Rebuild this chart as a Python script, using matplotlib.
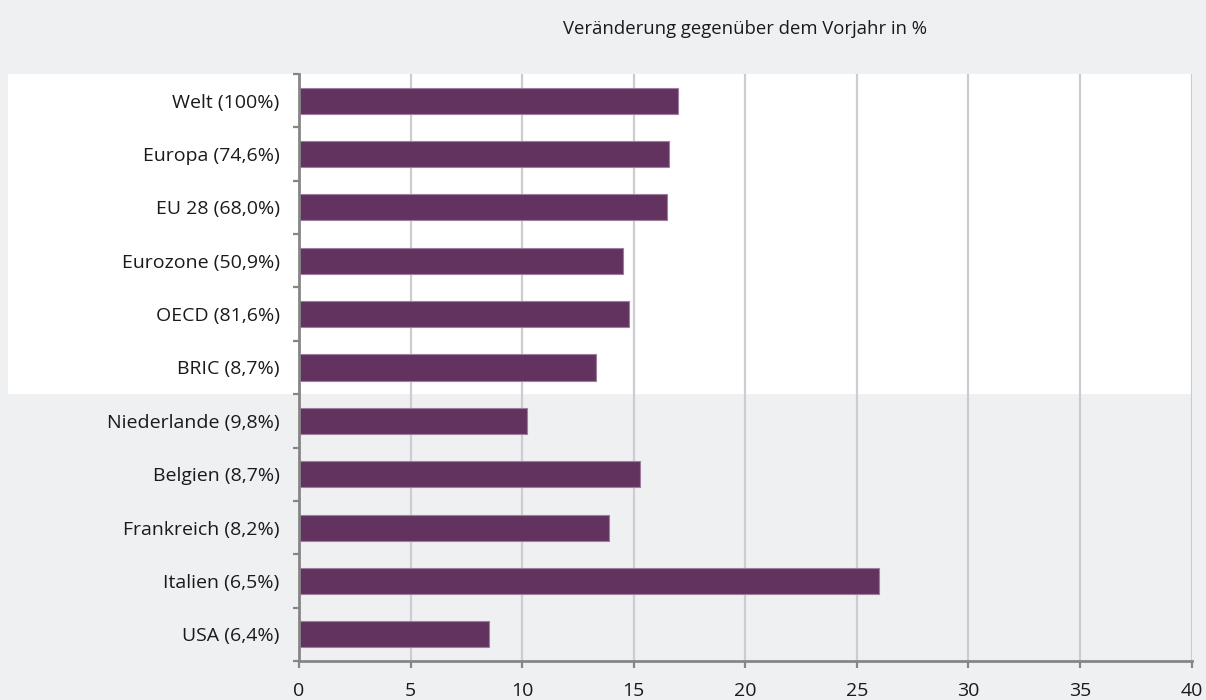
import matplotlib
matplotlib.use("Agg")
import matplotlib.pyplot as plt
from matplotlib.patches import Rectangle
from matplotlib.transforms import blended_transform_factory
import numpy as np

plt.rcParams['font.family'] = ['Open Sans', 'DejaVu Sans']

categories = [
    "Welt (100%)", "Europa (74,6%)", "EU 28 (68,0%)", "Eurozone (50,9%)",
    "OECD (81,6%)", "BRIC (8,7%)", "Niederlande (9,8%)", "Belgien (8,7%)",
    "Frankreich (8,2%)", "Italien (6,5%)", "USA (6,4%)",
]
values = [17.0, 16.6, 16.5, 14.5, 14.8, 13.3, 10.2, 15.3, 13.9, 26.0, 8.5]
n_regions = 6  # first six rows are aggregate regions (white panel)
x_ticks = [0, 5, 10, 15, 20, 25, 30, 35, 40]
title = "Veränderung gegenüber dem Vorjahr in %"

bg = "#eff0f2"
bar_color = "#62335f"
edge_color = "#a07c9e"
grid_color = "#cdcdd1"
axis_color = "#868686"
text_color = "#1a1a1a"

fig = plt.figure(figsize=(12.06, 7.0), dpi=100, facecolor=bg)
ax = fig.add_axes([0.2479, 0.0557, 0.7402, 0.8386])
ax.set_facecolor("none")

ypos = np.arange(len(categories))
ax.barh(ypos, values, height=0.49, color=bar_color, edgecolor=edge_color,
        linewidth=0.8, zorder=3)

ax.set_xlim(0, 40)
ax.set_ylim(len(categories) - 0.5, -0.5)

# white panel behind the region aggregates, reaching out to the labels
trans = blended_transform_factory(fig.transFigure, ax.transData)
panel = Rectangle((8 / 1206, -0.5), 0.9881 - 8 / 1206, n_regions,
                  transform=trans, facecolor="white", edgecolor="none",
                  zorder=0, clip_on=False)
ax.add_patch(panel)

# grid
ax.set_xticks(x_ticks)
ax.set_xticklabels([str(t) for t in x_ticks], fontsize=14, color=text_color)
for t in x_ticks[1:]:
    ax.axvline(t, color=grid_color, linewidth=1.6, zorder=1)

# y axis: ticks at category boundaries, labels centred on bars
ax.set_yticks(np.arange(-0.5, len(categories), 1.0))
ax.set_yticklabels([])
ax.set_yticks(ypos, minor=True)
ax.set_yticklabels(categories, minor=True, fontsize=14, color=text_color)
ax.tick_params(axis="y", which="minor", length=0, pad=14)
ax.tick_params(axis="y", which="major", length=4, width=1.6, color=axis_color,
               direction="out")
ax.tick_params(axis="x", which="major", length=5, width=1.6, color=axis_color,
               direction="out", pad=10)

for side in ["top", "right"]:
    ax.spines[side].set_visible(False)
for side in ["left", "bottom"]:
    ax.spines[side].set_color(axis_color)
    ax.spines[side].set_linewidth(2.0)
    ax.spines[side].set_zorder(4)

fig.text(0.618, 0.958, title, ha="center", va="center", fontsize=13.3,
         color=text_color)

fig.savefig("out.png", dpi=100, facecolor=bg)
